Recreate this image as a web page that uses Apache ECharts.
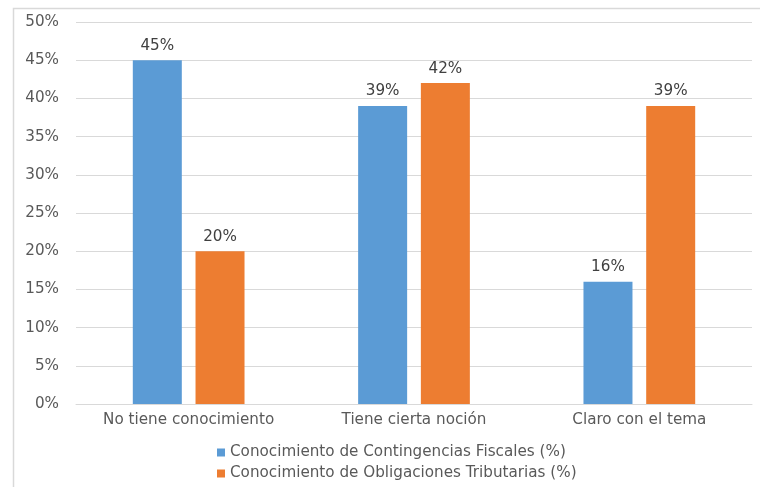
<!DOCTYPE html>
<html><head><meta charset="utf-8">
<script src="https://cdn.jsdelivr.net/npm/echarts@6/dist/echarts.min.js"></script>
<style>html,body{margin:0;padding:0;background:#fff}#c{width:760px;height:487px}</style>
</head><body><div id="c"></div>
<script>
var categories = ['No tiene conocimiento', 'Tiene cierta noción', 'Claro con el tema'];
var seriesNames = ['Conocimiento de Contingencias Fiscales (%)', 'Conocimiento de Obligaciones Tributarias (%)'];
var fiscales = [45, 39, 16];
var tributarias = [20, 42, 39];
var yTicks = {min: 0, max: 50, interval: 5};

var font = 'DejaVu Sans';
var fs = 15.2;
var chart = echarts.init(document.getElementById('c'));
chart.setOption({
  animation: false,
  textStyle: {fontFamily: font},
  graphic: [{type: 'rect', left: 11, top: 6, shape: {width: 800, height: 600}, style: {fill: 'none', stroke: '#d9d9d9', lineWidth: 1.5}}],
  grid: {left: 76, right: 8, top: 22, bottom: 83},
  legend: {
    orient: 'vertical', left: 212, top: 440, itemWidth: 8, itemHeight: 8, itemGap: 6,
    icon: 'rect',
    textStyle: {color: '#595959', fontSize: fs, fontFamily: font},
    data: seriesNames
  },
  xAxis: {
    type: 'category', data: categories,
    axisLine: {lineStyle: {color: '#d9d9d9'}}, axisTick: {show: false},
    axisLabel: {color: '#595959', fontSize: fs, margin: 9}
  },
  yAxis: {
    type: 'value', min: yTicks.min, max: yTicks.max, interval: yTicks.interval,
    axisLine: {show: false}, axisTick: {show: false},
    splitLine: {lineStyle: {color: '#d9d9d9'}},
    axisLabel: {color: '#595959', fontSize: fs, margin: 17, formatter: '{value}%'}
  },
  series: [
    {name: seriesNames[0], type: 'bar', data: fiscales, barWidth: 49, barGap: '28%',
     itemStyle: {color: '#5B9BD5'},
     label: {show: true, position: 'top', formatter: '{c}%', color: '#404040', fontSize: fs, distance: 7}},
    {name: seriesNames[1], type: 'bar', data: tributarias, barWidth: 49,
     itemStyle: {color: '#ED7D31'},
     label: {show: true, position: 'top', formatter: '{c}%', color: '#404040', fontSize: fs, distance: 7}}
  ]
});
</script></body></html>
